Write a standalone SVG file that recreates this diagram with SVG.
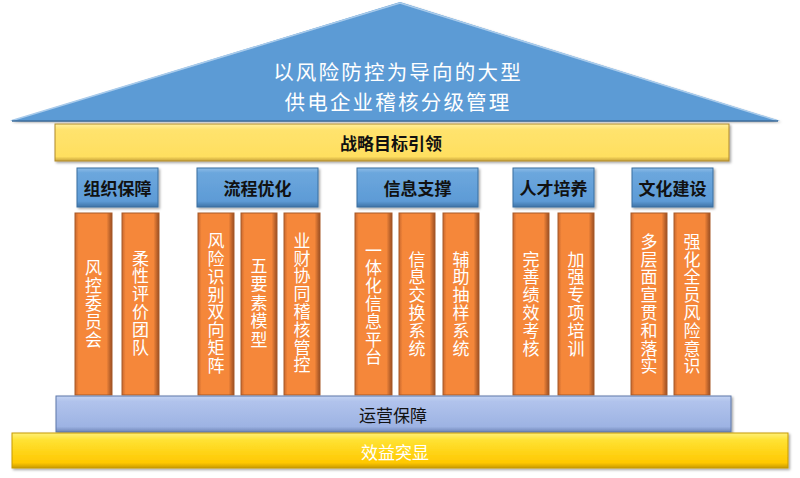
<svg xmlns="http://www.w3.org/2000/svg" width="800" height="478" viewBox="0 0 800 478">
<defs>
<linearGradient id="gPillar" x1="0" y1="0" x2="1" y2="0">
<stop offset="0" stop-color="#C9682E"/>
<stop offset="0.1" stop-color="#F5873A"/>
<stop offset="0.85" stop-color="#F5873A"/>
<stop offset="1" stop-color="#9A4E22"/>
</linearGradient>
<linearGradient id="gHead" x1="0" y1="0" x2="0" y2="1">
<stop offset="0" stop-color="#8CBCE8"/>
<stop offset="0.12" stop-color="#6CA7DD"/>
<stop offset="0.85" stop-color="#5D9BD6"/>
<stop offset="1" stop-color="#3F73A6"/>
</linearGradient>
<linearGradient id="gStrat" x1="0" y1="0" x2="0" y2="1">
<stop offset="0" stop-color="#FFF0A0"/>
<stop offset="0.15" stop-color="#FFE36E"/>
<stop offset="0.88" stop-color="#FFDF60"/>
<stop offset="1" stop-color="#C7A23A"/>
</linearGradient>
<linearGradient id="gOps" x1="0" y1="0" x2="0" y2="1">
<stop offset="0" stop-color="#C4D3F2"/>
<stop offset="0.15" stop-color="#B1C3EC"/>
<stop offset="0.85" stop-color="#9DB3E3"/>
<stop offset="1" stop-color="#6F86B8"/>
</linearGradient>
<linearGradient id="gBen" x1="0" y1="0" x2="0" y2="1">
<stop offset="0" stop-color="#FFF07A"/>
<stop offset="0.2" stop-color="#FFE233"/>
<stop offset="0.85" stop-color="#FFC800"/>
<stop offset="1" stop-color="#C79A00"/>
</linearGradient>
<filter id="sh" x="-5%" y="-5%" width="110%" height="120%">
<feDropShadow dx="1.5" dy="1.5" stdDeviation="1" flood-color="#000" flood-opacity="0.35"/>
</filter>
</defs>
<style>
.pillar{fill:url(#gPillar);stroke:#A85A28;stroke-width:1}
.ptxt{font-family:"Noto Sans CJK SC","Noto Sans CJK JP",sans-serif;font-size:17px;fill:#FFFFFF;text-anchor:middle;writing-mode:vertical-rl;letter-spacing:0.8px}
.head{fill:url(#gHead);stroke:#3A6EA0;stroke-width:1}
.htxt{font-family:"Noto Sans CJK SC","Noto Sans CJK JP",sans-serif;font-size:17px;font-weight:bold;fill:#111111;text-anchor:middle;dominant-baseline:central}
.btxt{font-family:"Noto Sans CJK SC","Noto Sans CJK JP",sans-serif;font-size:17px;text-anchor:middle;dominant-baseline:central}
.rtxt{font-family:"Noto Sans CJK SC","Noto Sans CJK JP",sans-serif;font-size:20.5px;letter-spacing:2.2px;fill:#FFFFFF;text-anchor:middle}
</style>
<rect width="800" height="478" fill="#FFFFFF"/>

<g id="roof">
<polygon points="10,121 400,2 780,121" fill="#5B9BD5" filter="url(#sh)"/>
<polyline points="12,120.5 400,3 777,120.5" fill="none" stroke="#A9CBEB" stroke-width="1.5"/>
<line x1="12" y1="121" x2="778" y2="121" stroke="#3E6E9C" stroke-width="1.5"/>
<text class="rtxt" x="398" y="79.5">以风险防控为导向的大型</text>
<text class="rtxt" x="398" y="109.5">供电企业稽核分级管理</text>
</g>

<g id="strategy">
<rect x="55" y="124" width="674" height="37" fill="url(#gStrat)" stroke="#B08A2A" stroke-width="1" filter="url(#sh)"/>
<text x="391" y="142.5" class="htxt">战略目标引领</text>
</g>

<g id="h1"><rect class="head" x="77" y="168" width="81" height="39" filter="url(#sh)"/><text class="htxt" x="117.5" y="187.5">组织保障</text></g>
<g id="h2"><rect class="head" x="197" y="168" width="121" height="39" filter="url(#sh)"/><text class="htxt" x="257.5" y="187.5">流程优化</text></g>
<g id="h3"><rect class="head" x="357" y="168" width="121" height="39" filter="url(#sh)"/><text class="htxt" x="417.5" y="187.5">信息支撑</text></g>
<g id="h4"><rect class="head" x="513" y="168" width="81" height="39" filter="url(#sh)"/><text class="htxt" x="553.5" y="187.5">人才培养</text></g>
<g id="h5"><rect class="head" x="632" y="168" width="81" height="39" filter="url(#sh)"/><text class="htxt" x="672.5" y="187.5">文化建设</text></g>

<g id="p1"><rect class="pillar" x="75" y="213" width="37" height="182"/><text class="ptxt" x="93.5" y="304">风控委员会</text></g>
<g id="p2"><rect class="pillar" x="122" y="213" width="37" height="182"/><text class="ptxt" x="140.5" y="303">柔性评价团队</text></g>
<g id="p3"><rect class="pillar" x="198" y="213" width="36" height="182"/><text class="ptxt" x="216" y="303.5">风险识别双向矩阵</text></g>
<g id="p4"><rect class="pillar" x="241" y="213" width="36" height="182"/><text class="ptxt" x="259" y="303" style="letter-spacing:1.5px">五要素模型</text></g>
<g id="p5"><rect class="pillar" x="284" y="213" width="36" height="182"/><text class="ptxt" x="302" y="303">业财协同稽核管控</text></g>
<g id="p6"><rect class="pillar" x="355" y="213" width="37" height="182"/><text class="ptxt" x="373.5" y="304">一体化信息平台</text></g>
<g id="p7"><rect class="pillar" x="399" y="213" width="36" height="182"/><text class="ptxt" x="417" y="304">信息交换系统</text></g>
<g id="p8"><rect class="pillar" x="443" y="213" width="36" height="182"/><text class="ptxt" x="461" y="304">辅助抽样系统</text></g>
<g id="p9"><rect class="pillar" x="513" y="213" width="36" height="182"/><text class="ptxt" x="531" y="304">完善绩效考核</text></g>
<g id="p10"><rect class="pillar" x="558" y="213" width="36" height="182"/><text class="ptxt" x="576" y="304">加强专项培训</text></g>
<g id="p11"><rect class="pillar" x="631" y="213" width="36" height="182"/><text class="ptxt" x="649" y="304">多层面宣贯和落实</text></g>
<g id="p12"><rect class="pillar" x="674" y="213" width="36" height="182"/><text class="ptxt" x="692" y="304">强化全员风险意识</text></g>

<g id="operations">
<rect x="56" y="396" width="675" height="36" fill="url(#gOps)" stroke="#5F78AA" stroke-width="1" filter="url(#sh)"/>
<text class="btxt" x="393" y="414.5" fill="#111111">运营保障</text>
</g>

<g id="benefit">
<rect x="12" y="433" width="776" height="35" fill="url(#gBen)" stroke="#C89B00" stroke-width="1" filter="url(#sh)"/>
<text class="btxt" x="395" y="451.5" fill="#FFFFFF">效益突显</text>
</g>

<g id="connectors"></g>
</svg>
